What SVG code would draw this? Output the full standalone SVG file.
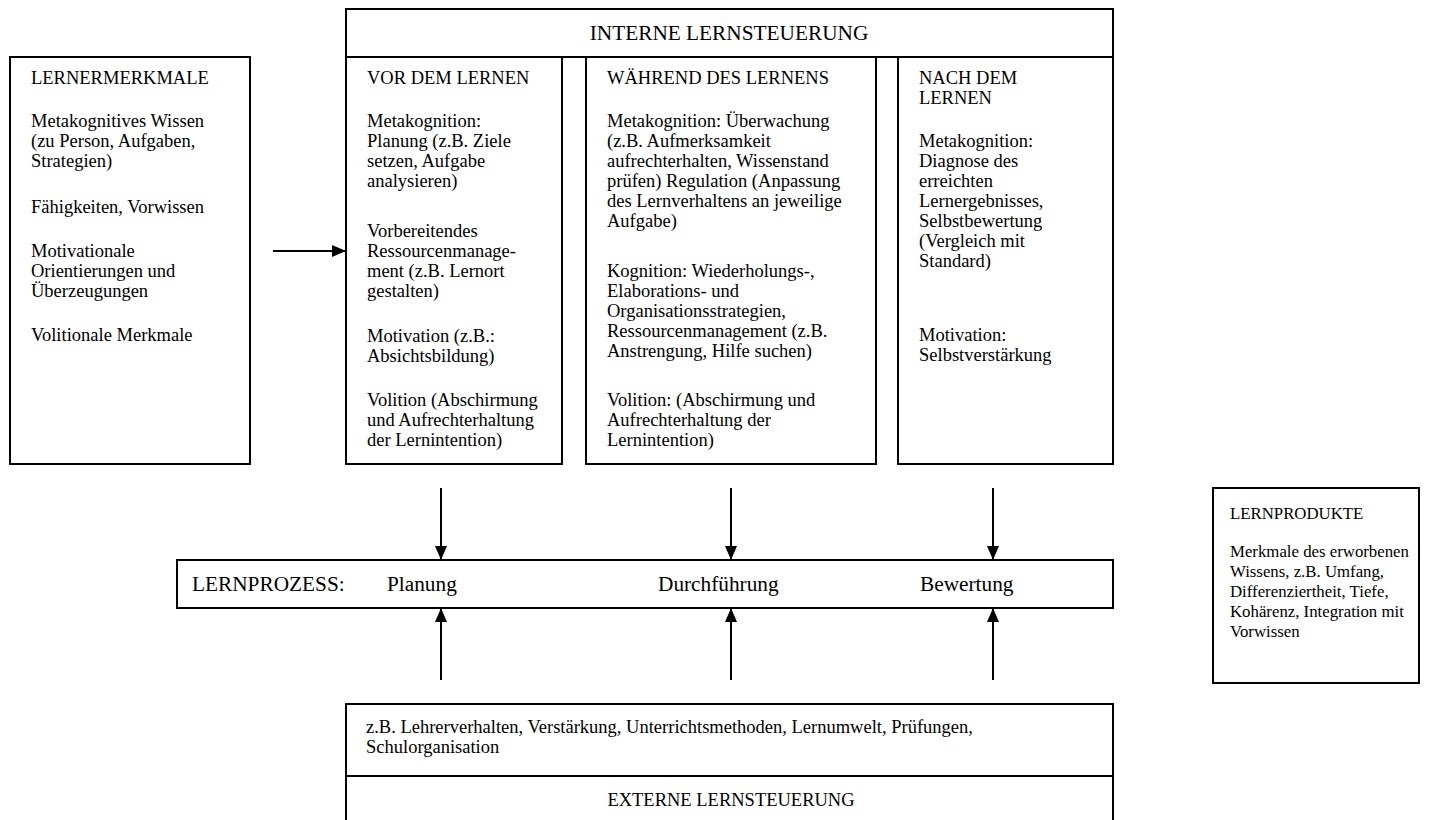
<svg xmlns="http://www.w3.org/2000/svg" width="1429" height="820" viewBox="0 0 1429 820">
  <style>
    .box { fill: #fff; stroke: #000; stroke-width: 2; }
    .rule { stroke: #000; stroke-width: 2; fill: none; }
    .t { font-family: "Liberation Serif", "Times New Roman", serif; font-size: 18.5px; fill: #000; }
    .h { font-family: "Liberation Serif", "Times New Roman", serif; font-size: 21.3px; fill: #000; }
    .s { font-family: "Liberation Serif", "Times New Roman", serif; font-size: 16.8px; fill: #000; }
    .c { text-anchor: middle; }
    .wire { stroke: #000; stroke-width: 2; fill: none; marker-end: url(#head); }
  </style>
  <defs>
    <marker id="head" viewBox="0 0 14 12" refX="14" refY="6" markerWidth="14" markerHeight="12" markerUnits="userSpaceOnUse" orient="auto">
      <path d="M0,0 L14,6 L0,12 Z" fill="#000"/>
    </marker>
  </defs>
  <rect width="1429" height="820" fill="#fff"/>

  <!-- header strip over the three phase columns -->
  <g id="interne">
    <rect class="box" x="346" y="9" width="767" height="48"/>
    <text class="h c" x="729" y="40">INTERNE LERNSTEUERUNG</text>
  </g>

  <g id="lernermerkmale">
    <rect class="box" x="10" y="57" width="240" height="407"/>
    <text class="t">
      <tspan x="31" y="84">LERNERMERKMALE</tspan>
      <tspan x="31" y="127">Metakognitives Wissen</tspan>
      <tspan x="31" y="147">(zu Person, Aufgaben,</tspan>
      <tspan x="31" y="167">Strategien)</tspan>
      <tspan x="31" y="213">Fähigkeiten, Vorwissen</tspan>
      <tspan x="31" y="257">Motivationale</tspan>
      <tspan x="31" y="277">Orientierungen und</tspan>
      <tspan x="31" y="297">Überzeugungen</tspan>
      <tspan x="31" y="341">Volitionale Merkmale</tspan>
    </text>
  </g>

  <g id="vor">
    <rect class="box" x="346" y="57" width="216" height="407"/>
    <text class="t">
      <tspan x="367" y="84">VOR DEM LERNEN</tspan>
      <tspan x="367" y="127">Metakognition:</tspan>
      <tspan x="367" y="147">Planung (z.B. Ziele</tspan>
      <tspan x="367" y="167">setzen, Aufgabe</tspan>
      <tspan x="367" y="187">analysieren)</tspan>
      <tspan x="367" y="237">Vorbereitendes</tspan>
      <tspan x="367" y="257">Ressourcenmanage-</tspan>
      <tspan x="367" y="277">ment (z.B. Lernort</tspan>
      <tspan x="367" y="297">gestalten)</tspan>
      <tspan x="367" y="342">Motivation (z.B.:</tspan>
      <tspan x="367" y="362">Absichtsbildung)</tspan>
      <tspan x="367" y="406">Volition (Abschirmung</tspan>
      <tspan x="367" y="426">und Aufrechterhaltung</tspan>
      <tspan x="367" y="446">der Lernintention)</tspan>
    </text>
  </g>

  <g id="waehrend">
    <rect class="box" x="586" y="57" width="290" height="407"/>
    <text class="t">
      <tspan x="607" y="84">WÄHREND DES LERNENS</tspan>
      <tspan x="607" y="127">Metakognition: Überwachung</tspan>
      <tspan x="607" y="147">(z.B. Aufmerksamkeit</tspan>
      <tspan x="607" y="167">aufrechterhalten, Wissenstand</tspan>
      <tspan x="607" y="187">prüfen) Regulation (Anpassung</tspan>
      <tspan x="607" y="207">des Lernverhaltens an jeweilige</tspan>
      <tspan x="607" y="227">Aufgabe)</tspan>
      <tspan x="607" y="277">Kognition: Wiederholungs-,</tspan>
      <tspan x="607" y="297">Elaborations- und</tspan>
      <tspan x="607" y="317">Organisationsstrategien,</tspan>
      <tspan x="607" y="337">Ressourcenmanagement (z.B.</tspan>
      <tspan x="607" y="357">Anstrengung, Hilfe suchen)</tspan>
      <tspan x="607" y="406">Volition: (Abschirmung und</tspan>
      <tspan x="607" y="426">Aufrechterhaltung der</tspan>
      <tspan x="607" y="446">Lernintention)</tspan>
    </text>
  </g>

  <g id="nach">
    <rect class="box" x="898" y="57" width="215" height="407"/>
    <text class="t">
      <tspan x="919" y="84">NACH DEM</tspan>
      <tspan x="919" y="104">LERNEN</tspan>
      <tspan x="919" y="147">Metakognition:</tspan>
      <tspan x="919" y="167">Diagnose des</tspan>
      <tspan x="919" y="187">erreichten</tspan>
      <tspan x="919" y="207">Lernergebnisses,</tspan>
      <tspan x="919" y="227">Selbstbewertung</tspan>
      <tspan x="919" y="247">(Vergleich mit</tspan>
      <tspan x="919" y="267">Standard)</tspan>
      <tspan x="919" y="341">Motivation:</tspan>
      <tspan x="919" y="361">Selbstverstärkung</tspan>
    </text>
  </g>

  <g id="lernprozess">
    <rect class="box" x="177" y="560" width="936" height="48"/>
    <text class="h" x="192" y="591">LERNPROZESS:</text>
    <text class="h" x="387" y="591">Planung</text>
    <text class="h" x="658" y="591">Durchführung</text>
    <text class="h" x="920" y="591">Bewertung</text>
  </g>

  <g id="lernprodukte">
    <rect class="box" x="1213" y="488" width="206" height="195"/>
    <text class="s">
      <tspan x="1230" y="519">LERNPRODUKTE</tspan>
      <tspan x="1230" y="557">Merkmale des erworbenen</tspan>
      <tspan x="1230" y="577">Wissens, z.B. Umfang,</tspan>
      <tspan x="1230" y="597">Differenziertheit, Tiefe,</tspan>
      <tspan x="1230" y="617">Kohärenz, Integration mit</tspan>
      <tspan x="1230" y="637">Vorwissen</tspan>
    </text>
  </g>

  <g id="externe">
    <rect class="box" x="346" y="704" width="767" height="130"/>
    <line class="rule" x1="346" y1="776" x2="1113" y2="776"/>
    <text class="t">
      <tspan x="366" y="733">z.B. Lehrerverhalten, Verstärkung, Unterrichtsmethoden, Lernumwelt, Prüfungen,</tspan>
      <tspan x="366" y="753">Schulorganisation</tspan>
    </text>
    <text class="t c" x="731" y="806">EXTERNE LERNSTEUERUNG</text>
  </g>

  <g id="connectors">
    <line class="wire" x1="273" y1="251" x2="346" y2="251"/>
    <line class="wire" x1="441" y1="488" x2="441" y2="560"/>
    <line class="wire" x1="731" y1="488" x2="731" y2="560"/>
    <line class="wire" x1="993" y1="488" x2="993" y2="560"/>
    <line class="wire" x1="441" y1="680" x2="441" y2="608"/>
    <line class="wire" x1="731" y1="680" x2="731" y2="608"/>
    <line class="wire" x1="993" y1="680" x2="993" y2="608"/>
  </g>
</svg>
